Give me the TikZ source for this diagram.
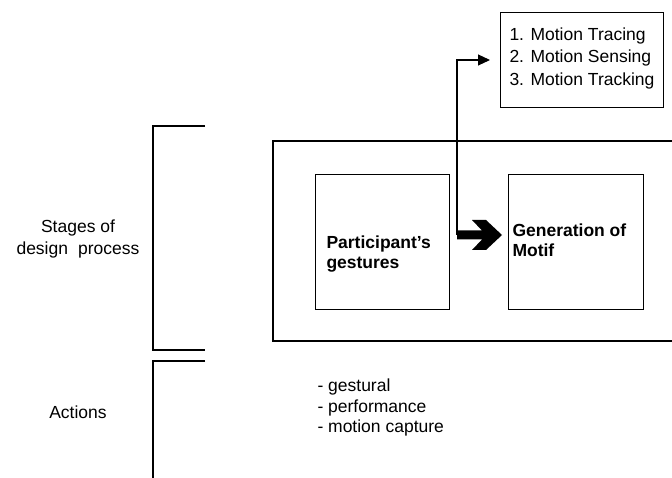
\documentclass[tikz,border=0pt]{standalone}
\usepackage{fontspec}
\setmainfont{Liberation Sans}
\usetikzlibrary{arrows.meta}
\begin{document}
\begin{tikzpicture}[x=1pt,y=-1pt,
  line width=1pt,
  txt/.style={inner sep=0pt,font=\fontsize{17.5}{22}\selectfont},
  boldtxt/.style={inner sep=0pt,font=\fontsize{17.5}{20}\selectfont\bfseries,align=left,anchor=west},
  framebox/.style={draw,line width=1pt,inner sep=0pt,anchor=north west},
  bracket/.style={draw,line width=1.1pt},
  flow/.style={draw,line width=1.1pt,-{Triangle[length=12pt,width=11pt]}}]
\useasboundingbox (0,0) rectangle (672,478);

% brackets on the left with their labels
\draw[bracket] (205,126) -| (153,350) -- (205,350);
\draw[bracket] (205,361) -| (153,480);
\node[txt,align=center] (stages) at (78,239) {Stages of\\design\hspace{0.3em} process};
\node[txt] (actions) at (78,412) {Actions};

% outer frame, running off the right edge
\draw[bracket] (674,141) -| (273,341) -- (674,341);

% the two stages
\node[framebox,minimum width=134pt,minimum height=135pt] (gest) at (315,174) {};
\node[framebox,minimum width=135pt,minimum height=135pt] (motif) at (508,174) {};
\node[boldtxt] (gesttxt) at (326,254) {Participant’s\\gestures};
\node[boldtxt] (motiftxt) at (512,240) {Generation of\\Motif};

% thick arrow between the stages
\coordinate (elbow) at (457,235);
\fill (elbow) ++(0,-4.5) -- (482,230.5) -- (472,220) -- (486,220) -- (502,235)
      -- (486,250) -- (472,250) -- (482,239.5) -- (457,239.5) -- cycle;

% motion methods box
\node[framebox,minimum width=163pt,minimum height=95pt] (methods) at (500,12) {};
\node[txt,align=left,anchor=north west,font=\fontsize{17.5}{22.5}\selectfont] (methodstxt) at (509,27)
  {1. Motion Tracing\\2. Motion Sensing\\3. Motion Tracking};
\draw[flow,shorten >=10pt] (elbow) |- (methods.west);

% list of actions
\node[txt,align=left,anchor=west,font=\fontsize{17.5}{20.5}\selectfont] (actlist) at (317,407.5)
  {- gestural\\- performance\\- motion capture};
\end{tikzpicture}
\end{document}
